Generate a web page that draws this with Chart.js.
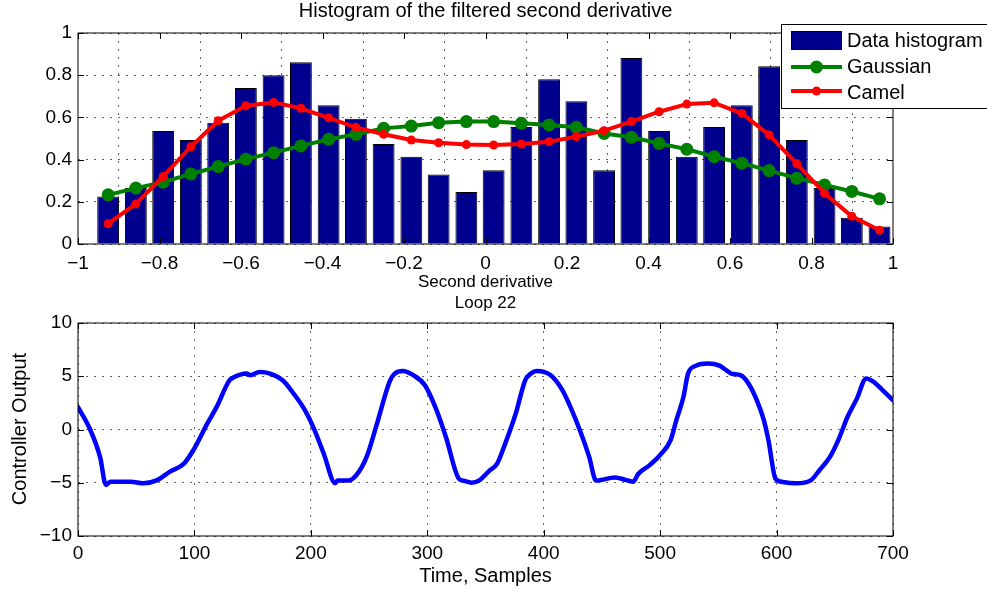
<!DOCTYPE html>
<html>
<head>
<meta charset="utf-8">
<script src="https://cdn.jsdelivr.net/npm/chart.js@4.4.1/dist/chart.umd.min.js"></script>
<style>
  html, body { margin: 0; padding: 0; background: #fff; }
  #wrap { position: relative; width: 987px; height: 590px; overflow: hidden; }
  canvas { position: absolute; left: 0; }
  #histChart { top: 0; }
  #loopChart { top: 280px; }
</style>
</head>
<body>
<div id="wrap">
  <canvas id="histChart" width="987" height="300"></canvas>
  <canvas id="loopChart" width="987" height="310"></canvas>
</div>
<script>
// top plot: histogram bins and the two fitted curves
const binCenters = [-0.926, -0.858, -0.791, -0.723, -0.656, -0.588, -0.520, -0.453, -0.385, -0.318,
    -0.250, -0.182, -0.115, -0.047, 0.020, 0.088, 0.156, 0.223, 0.291, 0.358,
    0.426, 0.494, 0.561, 0.629, 0.696, 0.764, 0.832, 0.899, 0.967];
const histCounts = [0.225, 0.265, 0.535, 0.493, 0.575, 0.739, 0.800, 0.861, 0.657, 0.594,
    0.474, 0.413, 0.329, 0.246, 0.350, 0.554, 0.781, 0.677, 0.350, 0.882,
    0.535, 0.413, 0.554, 0.658, 0.843, 0.493, 0.265, 0.124, 0.083];
const gaussianFit = [0.233, 0.265, 0.293, 0.332, 0.367, 0.402, 0.433, 0.465, 0.496, 0.520,
    0.548, 0.559, 0.575, 0.580, 0.580, 0.572, 0.564, 0.553, 0.524, 0.506,
    0.477, 0.449, 0.414, 0.383, 0.348, 0.312, 0.280, 0.249, 0.214];
const camelFit = [0.096, 0.190, 0.320, 0.461, 0.584, 0.655, 0.671, 0.643, 0.598, 0.553,
    0.520, 0.493, 0.480, 0.471, 0.469, 0.474, 0.485, 0.509, 0.537, 0.580,
    0.627, 0.663, 0.669, 0.619, 0.517, 0.380, 0.241, 0.131, 0.065];

// bottom plot: controller output over time
const sampleTimes = [0, 10, 19, 24, 28, 45, 56, 68, 79, 91,
    99, 111, 119, 130, 133, 145, 148, 156, 165, 176,
    185, 195, 202, 211, 221, 223, 232, 239, 248, 256,
    268, 272, 279, 288, 298, 308, 316, 327, 331, 338,
    345, 353, 360, 367, 376, 384, 389, 394, 406, 416,
    423, 431, 439, 445, 449, 461, 471, 477, 481, 491,
    500, 509, 514, 520, 524, 531, 541, 551, 557, 561,
    569, 576, 583, 589, 593, 599, 604, 617, 629, 637,
    646, 653, 661, 669, 677, 683, 691, 700];
const controllerOutput = [2.1, 0.1, -2.6, -5.2, -4.9, -4.9, -5.05, -4.75, -3.95, -3.2,
    -1.95, 0.55, 2.1, 4.6, 4.85, 5.25, 5.1, 5.4, 5.25, 4.6,
    3.4, 1.8, 0.25, -2.25, -5.05, -4.8, -4.8, -4.3, -2.55, 0.25,
    4.6, 5.25, 5.5, 5.1, 4.15, 1.8, -0.7, -4.6, -4.8, -5.0,
    -4.75, -3.9, -3.2, -1.3, 1.5, 4.6, 5.25, 5.5, 5.1, 3.7,
    2.1, -0.05, -2.55, -4.8, -4.75, -4.5, -4.75, -4.9, -4.2, -3.35,
    -2.4, -1.0, 0.9, 3.05, 5.25, 6.0, 6.2, 6.0, 5.55, 5.25,
    5.1, 4.3, 2.75, 0.9, -1.0, -4.6, -4.9, -5.05, -4.8, -3.8,
    -2.55, -1.0, 1.2, 2.9, 4.8, 4.5, 3.7, 2.75];

const FONT = "'Liberation Sans', Arial, Helvetica, sans-serif";
const NAVY = "#00008F";
const GREEN = "#008000";
const RED = "#FF0000";

function toXY(xs, ys) {
    return xs.map((x, i) => ({ x: x, y: ys[i] }));
}

function fmtTick(v) {
    return String(+Number(v).toFixed(2)).replace("-", "\u2212");
}

function axisStyle(extra) {
    return Object.assign({
        grid: { color: "rgba(0,0,0,0.6)", lineWidth: 1, drawTicks: false },
        border: { display: false, dash: [2, 6] },
    }, extra);
}

// matlab-like box with inward tick marks
const boxPlugin = {
    id: "boxPlugin",
    afterDatasetsDraw(chart) {
        const { ctx, chartArea: a } = chart;
        const len = 6;
        ctx.save();
        ctx.strokeStyle = "#000";
        ctx.lineWidth = 1;
        ctx.beginPath();
        chart.scales.x.ticks.forEach((t) => {
            const px = Math.round(chart.scales.x.getPixelForValue(t.value)) + 0.5;
            ctx.moveTo(px, a.bottom); ctx.lineTo(px, a.bottom - len);
            ctx.moveTo(px, a.top); ctx.lineTo(px, a.top + len);
        });
        chart.scales.y.ticks.forEach((t) => {
            const py = Math.round(chart.scales.y.getPixelForValue(t.value)) + 0.5;
            ctx.moveTo(a.left, py); ctx.lineTo(a.left + len, py);
            ctx.moveTo(a.right, py); ctx.lineTo(a.right - len, py);
        });
        ctx.stroke();
        ctx.strokeRect(a.left, a.top, a.right - a.left, a.bottom - a.top);
        ctx.restore();
    },
};

function textPlugin(items) {
    return {
        id: "textPlugin",
        afterDraw(chart) {
            const ctx = chart.ctx;
            ctx.save();
            ctx.fillStyle = "#000";
            ctx.textAlign = "center";
            ctx.textBaseline = "alphabetic";
            items.forEach((it) => {
                ctx.save();
                ctx.font = it.size + "px " + FONT;
                ctx.translate(it.x, it.y);
                if (it.rotate) ctx.rotate(it.rotate);
                ctx.fillText(it.text, 0, 0);
                ctx.restore();
            });
            ctx.restore();
        },
    };
}

const legendPlugin = {
    id: "legendPlugin",
    afterDraw(chart) {
        const ctx = chart.ctx;
        ctx.save();
        ctx.fillStyle = "#fff";
        ctx.strokeStyle = "#000";
        ctx.lineWidth = 1;
        ctx.fillRect(781, 24, 230, 84);
        ctx.strokeRect(781.5, 24.5, 230, 84);

        ctx.fillStyle = NAVY;
        ctx.fillRect(791, 31, 51, 19);
        ctx.strokeRect(791.5, 31.5, 50, 18);

        const rows = [
            { y: 67, color: GREEN, r: 6.5 },
            { y: 91, color: RED, r: 4.5 },
        ];
        rows.forEach((r) => {
            ctx.strokeStyle = r.color;
            ctx.lineWidth = 4;
            ctx.beginPath();
            ctx.moveTo(791, r.y); ctx.lineTo(842, r.y);
            ctx.stroke();
            ctx.fillStyle = r.color;
            ctx.beginPath();
            ctx.arc(816.5, r.y, r.r, 0, Math.PI * 2);
            ctx.fill();
        });

        ctx.fillStyle = "#000";
        ctx.font = "20px " + FONT;
        ctx.textAlign = "left";
        ctx.fillText("Data histogram", 847, 47);
        ctx.fillText("Gaussian", 847, 73);
        ctx.fillText("Camel", 847, 99);
        ctx.restore();
    },
};

new Chart(document.getElementById("histChart"), {
    type: "bar",
    data: {
        datasets: [
            {
                type: "line",
                label: "Camel",
                data: toXY(binCenters, camelFit),
                borderColor: RED,
                backgroundColor: RED,
                borderWidth: 4,
                pointRadius: 4.5,
                pointBorderWidth: 0,
                pointBackgroundColor: RED,
                borderJoinStyle: "round",
                order: 1,
            },
            {
                type: "line",
                label: "Gaussian",
                data: toXY(binCenters, gaussianFit),
                borderColor: GREEN,
                backgroundColor: GREEN,
                borderWidth: 4,
                pointRadius: 6.5,
                pointBorderWidth: 0,
                pointBackgroundColor: GREEN,
                borderJoinStyle: "round",
                order: 2,
            },
            {
                label: "Data histogram",
                data: toXY(binCenters, histCounts),
                backgroundColor: NAVY,
                borderColor: "#000",
                borderWidth: 1,
                barPercentage: 0.8,
                categoryPercentage: 1,
                order: 3,
            },
        ],
    },
    options: {
        responsive: false,
        animation: false,
        layout: { padding: { top: 33, right: 94, left: 0, bottom: 0 } },
        plugins: { legend: { display: false }, tooltip: { enabled: false } },
        scales: {
            x: axisStyle({
                type: "linear",
                min: -1,
                max: 1,
                offset: false,
                afterFit(scale) { scale.height = 56; },
                ticks: {
                    color: "#000",
                    font: { family: FONT, size: 19 },
                    stepSize: 0.2,
                    padding: 8,
                    maxRotation: 0,
                    callback: fmtTick,
                },
            }),
            y: axisStyle({
                min: 0,
                max: 1,
                afterFit(scale) { scale.width = 78; },
                ticks: {
                    color: "#000",
                    font: { family: FONT, size: 19 },
                    stepSize: 0.2,
                    padding: 6,
                    callback: fmtTick,
                },
            }),
        },
    },
    plugins: [
        boxPlugin,
        textPlugin([
            { text: "Histogram of the filtered second derivative", x: 485.5, y: 17, size: 20 },
            { text: "Second derivative", x: 485.5, y: 287, size: 17 },
        ]),
        legendPlugin,
    ],
});

new Chart(document.getElementById("loopChart"), {
    type: "line",
    data: {
        datasets: [
            {
                label: "Controller Output",
                data: toXY(sampleTimes, controllerOutput),
                borderColor: "#0000FF",
                borderWidth: 4.5,
                pointRadius: 0,
                cubicInterpolationMode: "monotone",
                borderJoinStyle: "round",
                borderCapStyle: "round",
            },
        ],
    },
    options: {
        responsive: false,
        animation: false,
        layout: { padding: { top: 43, right: 94, left: 0, bottom: 0 } },
        plugins: { legend: { display: false }, tooltip: { enabled: false } },
        scales: {
            x: axisStyle({
                type: "linear",
                min: 0,
                max: 700,
                afterFit(scale) { scale.height = 54; },
                ticks: {
                    color: "#000",
                    font: { family: FONT, size: 19 },
                    stepSize: 100,
                    padding: 6,
                    maxRotation: 0,
                    callback: fmtTick,
                },
            }),
            y: axisStyle({
                min: -10,
                max: 10,
                afterFit(scale) { scale.width = 78; },
                ticks: {
                    color: "#000",
                    font: { family: FONT, size: 19 },
                    stepSize: 5,
                    padding: 6,
                    callback: fmtTick,
                },
            }),
        },
    },
    plugins: [
        boxPlugin,
        textPlugin([
            { text: "Loop 22", x: 485.5, y: 28, size: 17 },
            { text: "Time, Samples", x: 485.5, y: 302, size: 20 },
            { text: "Controller Output", x: 26, y: 149, size: 20, rotate: -Math.PI / 2 },
        ]),
    ],
});
</script>
</body>
</html>
